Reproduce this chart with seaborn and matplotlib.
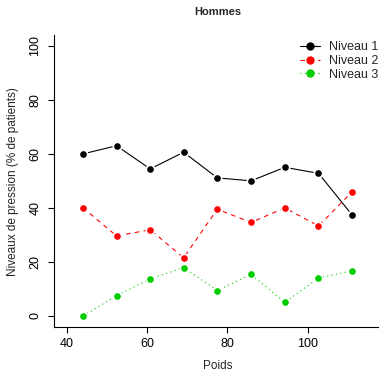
import pandas as pd
import matplotlib
matplotlib.use("Agg")
import matplotlib.pyplot as plt
import seaborn as sns

poids = [44.1, 52.4, 60.8, 69.1, 77.5, 85.9, 94.3, 102.7, 111.0]
niveau1 = [60.0, 63.0, 54.4, 60.6, 51.1, 50.0, 55.0, 52.8, 37.5]
niveau2 = [40.0, 29.6, 31.9, 21.5, 39.5, 34.6, 40.0, 33.3, 45.8]
niveau3 = [0.0, 7.5, 13.7, 17.9, 9.4, 15.4, 5.0, 14.0, 16.7]

series = ["Niveau 1", "Niveau 2", "Niveau 3"]
colors = ["black", "#FF0000", "#00CD00"]
styles = ["-", (0, (4, 4)), (0, (1, 3))]

df = pd.DataFrame({
    "Poids": poids * 3,
    "pct": niveau1 + niveau2 + niveau3,
    "niveau": [s for s in series for _ in poids],
})

sns.set_style("ticks")
plt.rcParams["font.family"] = ["Liberation Sans", "DejaVu Sans"]

W, H = 379, 372
fig = plt.figure(figsize=(W / 100, H / 100), dpi=100)
left, right, top, bottom = 54.3, 381, 35, 326.7
ax = fig.add_axes([left / W, 1 - bottom / H, (right - left) / W, (bottom - top) / H])

for name, col, ls in zip(series, colors, styles):
    sns.lineplot(data=df[df["niveau"] == name], x="Poids", y="pct", ax=ax,
                 color=col, linestyle=ls, linewidth=0.8, marker="o",
                 markersize=6, markeredgecolor="white", markeredgewidth=1.2,
                 label=name)

ax.set_xlim(36.9, 36.9 + (right - left) / 4.015)
ax.set_ylim(-4, 104)
ax.set_xticks([40, 60, 80, 100])
ax.set_yticks([0, 20, 40, 60, 80, 100])
ax.tick_params(axis="both", direction="out", length=4.3, width=0.8, labelsize=9,
               colors="black")
ax.tick_params(axis="x", pad=4)
ax.tick_params(axis="y", pad=5)
for lab in ax.get_yticklabels():
    lab.set_rotation(90)
    lab.set_va("center")
sns.despine(ax=ax)
for sp in ["left", "bottom"]:
    ax.spines[sp].set_linewidth(0.8)
    ax.spines[sp].set_color("black")

ax.set_xlabel("")
ax.set_ylabel("")
fig.text(217.5 / W, 1 - 366 / H, "Poids", ha="center", va="center", fontsize=8.5)
fig.text(13 / W, 1 - 181.5 / H, "Niveaux de pression (% de patients)", rotation=90,
         ha="center", va="center", fontsize=8.5)
fig.text(217.5 / W, 1 - 12.3 / H, "Hommes", ha="center", va="center", fontsize=8,
         fontweight="bold")

leg = ax.legend(loc="upper left", bbox_to_anchor=(300 / W, 1 - 41 / H),
                bbox_transform=fig.transFigure, frameon=False, fontsize=9,
                borderpad=0, borderaxespad=0, handlelength=1.6, handletextpad=0.7,
                labelspacing=0.15)
# legend keys: plain dots on the line, no white ring
for h in leg.legend_handles:
    h.set_markeredgewidth(0)

fig.savefig("out.png", dpi=100)
